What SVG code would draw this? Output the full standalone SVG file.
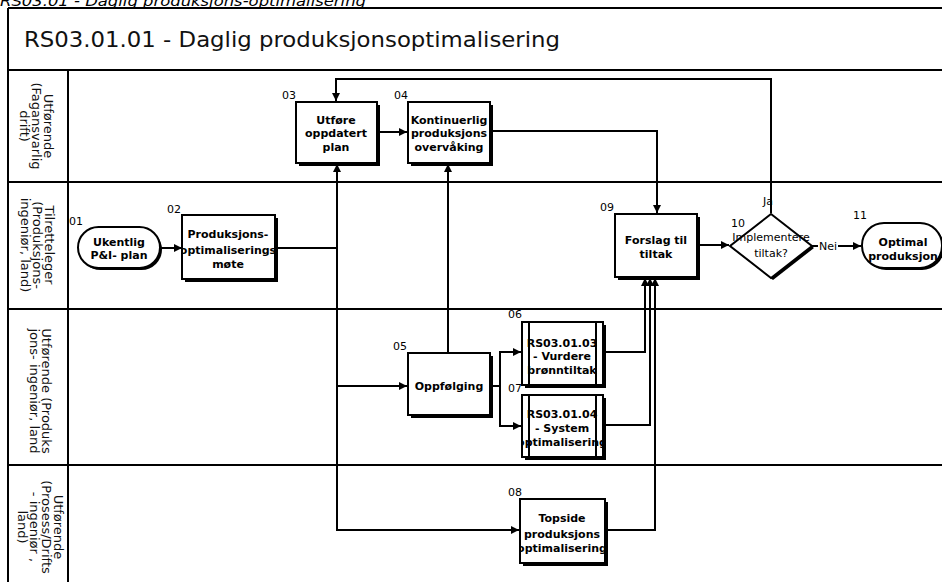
<svg xmlns="http://www.w3.org/2000/svg" width="942" height="582" viewBox="0 0 942 582">
  <style>
    .frame { fill: none; stroke: #000; stroke-width: 2; }
    .lane-lbl { font-family: "DejaVu Sans", Verdana, sans-serif; font-size: 13px; fill: #111; }
    .box { fill: #fff; stroke: #000; stroke-width: 2; }
    .shadow { fill: #000; }
    .txt { font-family: "DejaVu Sans", Verdana, sans-serif; font-size: 11px; font-weight: bold; fill: #000; text-anchor: middle; }
    .txt-r { font-family: "DejaVu Sans", Verdana, sans-serif; font-size: 11px; fill: #000; text-anchor: middle; }
    .num { font-family: "DejaVu Sans", Verdana, sans-serif; font-size: 11px; fill: #000; }
    .conn { fill: none; stroke: #000; stroke-width: 2; }
    .conn-arrow { fill: none; stroke: #000; stroke-width: 2; marker-end: url(#arr); }
    .elbl { font-family: "DejaVu Sans", Verdana, sans-serif; font-size: 11px; fill: #000; }
  </style>
  <defs>
    <marker id="arr" viewBox="0 0 10 10" refX="10" refY="5" markerWidth="10" markerHeight="8" markerUnits="userSpaceOnUse" orient="auto">
      <path d="M0,0 L10,5 L0,10 z" fill="#000"/>
    </marker>
    <clipPath id="clip02"><rect x="183" y="216" width="91" height="62"/></clipPath>
    <clipPath id="clip04"><rect x="409" y="103" width="80" height="59"/></clipPath>
    <clipPath id="clip06"><rect x="523" y="323" width="79" height="61"/></clipPath>
    <clipPath id="clip07"><rect x="523" y="396" width="79" height="60"/></clipPath>
    <clipPath id="clip08"><rect x="521" y="500" width="83" height="62"/></clipPath>
  </defs>

  <rect width="942" height="582" fill="#fff"/>

  <!-- document heading, partly off the top edge -->
  <text x="0" y="6" font-family="DejaVu Sans, sans-serif" font-size="14" font-style="italic" textLength="366" lengthAdjust="spacingAndGlyphs">RS03.01 - Daglig produksjons-optimalisering</text>

  <!-- pool frame, title and swimlanes -->
  <g id="pool">
    <line class="frame" x1="8" y1="8" x2="942" y2="8"/>
    <line class="frame" x1="8" y1="8" x2="8" y2="582"/>
    <line class="frame" x1="8" y1="70" x2="942" y2="70"/>
    <line class="frame" x1="68" y1="70" x2="68" y2="582"/>
    <line class="frame" x1="8" y1="182" x2="942" y2="182"/>
    <line class="frame" x1="8" y1="309" x2="942" y2="309"/>
    <line class="frame" x1="8" y1="465" x2="942" y2="465"/>
    <text x="24" y="47" font-family="DejaVu Sans, sans-serif" font-size="21" fill="#111" textLength="536" lengthAdjust="spacingAndGlyphs">RS03.01.01 - Daglig produksjonsoptimalisering</text>
  </g>

  <g id="lane-labels" class="lane-lbl" text-anchor="middle">
    <text transform="translate(44,126) rotate(90)"><tspan x="0" y="0">Utførende</tspan><tspan x="0" y="12">(Fagansvarlig</tspan><tspan x="0" y="24">drift)</tspan></text>
    <text transform="translate(45,245) rotate(90)"><tspan x="0" y="0">Tilretteleger</tspan><tspan x="0" y="12">(Produksjons-</tspan><tspan x="0" y="24">ingeniør, land)</tspan></text>
    <text transform="translate(42,391) rotate(90)"><tspan x="0" y="0">Utførende (Produks</tspan><tspan x="0" y="12">jons- ingeniør, land</tspan></text>
    <text transform="translate(54,527) rotate(90)"><tspan x="0" y="0">Utførende</tspan><tspan x="0" y="12">(Prosess/Drifts</tspan><tspan x="0" y="24">- ingeniør ,</tspan><tspan x="0" y="36">land)</tspan></text>
  </g>

  <!-- connectors -->
  <g id="connectors">
    <path class="conn-arrow" d="M160,248 H182"/>
    <path class="conn" d="M275,248 H337"/>
    <path class="conn-arrow" d="M337,248 V164"/>
    <path class="conn-arrow" d="M337,248 V530 H519"/>
    <path class="conn-arrow" d="M337,386 H407"/>
    <path class="conn-arrow" d="M377,132 H407"/>
    <path class="conn-arrow" d="M490,131 H657 V213"/>
    <path class="conn-arrow" d="M448,353 V164"/>
    <path class="conn-arrow" d="M490,386 H500 V352 H521"/>
    <path class="conn-arrow" d="M500,386 V426 H521"/>
    <path class="conn-arrow" d="M603,352 H645 V278"/>
    <path class="conn-arrow" d="M603,425 H650 V278"/>
    <path class="conn-arrow" d="M605,530 H655 V278"/>
    <path class="conn-arrow" d="M697,245 H729"/>
    <path class="conn-arrow" d="M812,246 H861"/>
    <path class="conn-arrow" d="M771,213 V79 H336 V101"/>
    <text class="elbl" x="763" y="205">Ja</text>
    <rect x="818" y="239" width="20" height="13" fill="#fff"/>
    <text class="elbl" x="819" y="250">Nei</text>
  </g>

  <!-- 01 start -->
  <g id="n01">
    <rect class="shadow" x="80" y="229" width="82" height="41" rx="20.5"/>
    <rect class="box" x="78" y="227" width="82" height="41" rx="20.5"/>
    <text class="num" x="69" y="225">01</text>
    <text class="txt" x="119" y="246">Ukentlig</text>
    <text class="txt" x="119" y="259">P&amp;I- plan</text>
  </g>

  <g id="n02">
    <rect class="shadow" x="185" y="218" width="93" height="64"/>
    <rect class="box" x="182" y="215" width="93" height="64"/>
    <text class="num" x="167" y="213">02</text>
    <g clip-path="url(#clip02)">
      <text class="txt" x="228" y="238">Produksjons-</text>
      <text class="txt" x="228" y="254">optimaliserings</text>
      <text class="txt" x="228" y="268">møte</text>
    </g>
  </g>

  <g id="n03">
    <rect class="shadow" x="299" y="105" width="81" height="61"/>
    <rect class="box" x="296" y="102" width="81" height="61"/>
    <text class="num" x="282" y="99">03</text>
    <text class="txt" x="336" y="124">Utføre</text>
    <text class="txt" x="336" y="137">oppdatert</text>
    <text class="txt" x="336" y="151">plan</text>
  </g>

  <g id="n04">
    <rect class="shadow" x="411" y="105" width="82" height="61"/>
    <rect class="box" x="408" y="102" width="82" height="61"/>
    <text class="num" x="394" y="99">04</text>
    <g clip-path="url(#clip04)">
      <text class="txt" x="449" y="124">Kontinuerlig</text>
      <text class="txt" x="449" y="137">produksjons</text>
      <text class="txt" x="449" y="151">overvåking</text>
    </g>
  </g>

  <g id="n05">
    <rect class="shadow" x="411" y="356" width="82" height="62"/>
    <rect class="box" x="408" y="353" width="82" height="62"/>
    <text class="num" x="393" y="350">05</text>
    <text class="txt" x="449" y="390">Oppfølging</text>
  </g>

  <g id="n06">
    <rect class="shadow" x="525" y="325" width="81" height="63"/>
    <rect class="box" x="522" y="322" width="81" height="63"/>
    <line class="frame" x1="529" y1="322" x2="529" y2="385"/>
    <line class="frame" x1="596" y1="322" x2="596" y2="385"/>
    <text class="num" x="508" y="318">06</text>
    <g clip-path="url(#clip06)">
      <text class="txt" x="562" y="347">RS03.01.03</text>
      <text class="txt" x="562" y="360">- Vurdere</text>
      <text class="txt" x="562" y="374">brønntiltak</text>
    </g>
  </g>

  <g id="n07">
    <rect class="shadow" x="525" y="398" width="81" height="62"/>
    <rect class="box" x="522" y="395" width="81" height="62"/>
    <line class="frame" x1="529" y1="395" x2="529" y2="457"/>
    <line class="frame" x1="596" y1="395" x2="596" y2="457"/>
    <text class="num" x="508" y="392">07</text>
    <g clip-path="url(#clip07)">
      <text class="txt" x="562" y="418">RS03.01.04</text>
      <text class="txt" x="562" y="432">- System</text>
      <text class="txt" x="562" y="446">optimalisering</text>
    </g>
  </g>

  <g id="n08">
    <rect class="shadow" x="523" y="502" width="85" height="64"/>
    <rect class="box" x="520" y="499" width="85" height="64"/>
    <text class="num" x="508" y="496">08</text>
    <g clip-path="url(#clip08)">
      <text class="txt" x="562" y="522">Topside</text>
      <text class="txt" x="562" y="538">produksjons</text>
      <text class="txt" x="562" y="552">optimalisering</text>
    </g>
  </g>

  <g id="n09">
    <rect class="shadow" x="618" y="217" width="82" height="63"/>
    <rect class="box" x="615" y="214" width="82" height="63"/>
    <text class="num" x="600" y="211">09</text>
    <text class="txt" x="656" y="244">Forslag til</text>
    <text class="txt" x="656" y="258">tiltak</text>
  </g>

  <g id="n10">
    <polygon class="shadow" points="773,216 814,248 773,280 732,248"/>
    <polygon class="box" points="771,214 812,246 771,278 730,246"/>
    <text class="num" x="731" y="227">10</text>
    <text class="txt-r" x="771" y="241">Implementere</text>
    <text class="txt-r" x="771" y="257">tiltak?</text>
  </g>

  <g id="n11">
    <rect class="shadow" x="864" y="225" width="80" height="45" rx="22"/>
    <rect class="box" x="862" y="223" width="80" height="45" rx="22"/>
    <text class="num" x="853" y="219">11</text>
    <text class="txt" x="903" y="246">Optimal</text>
    <text class="txt" x="903" y="260">produksjon</text>
  </g>
</svg>
